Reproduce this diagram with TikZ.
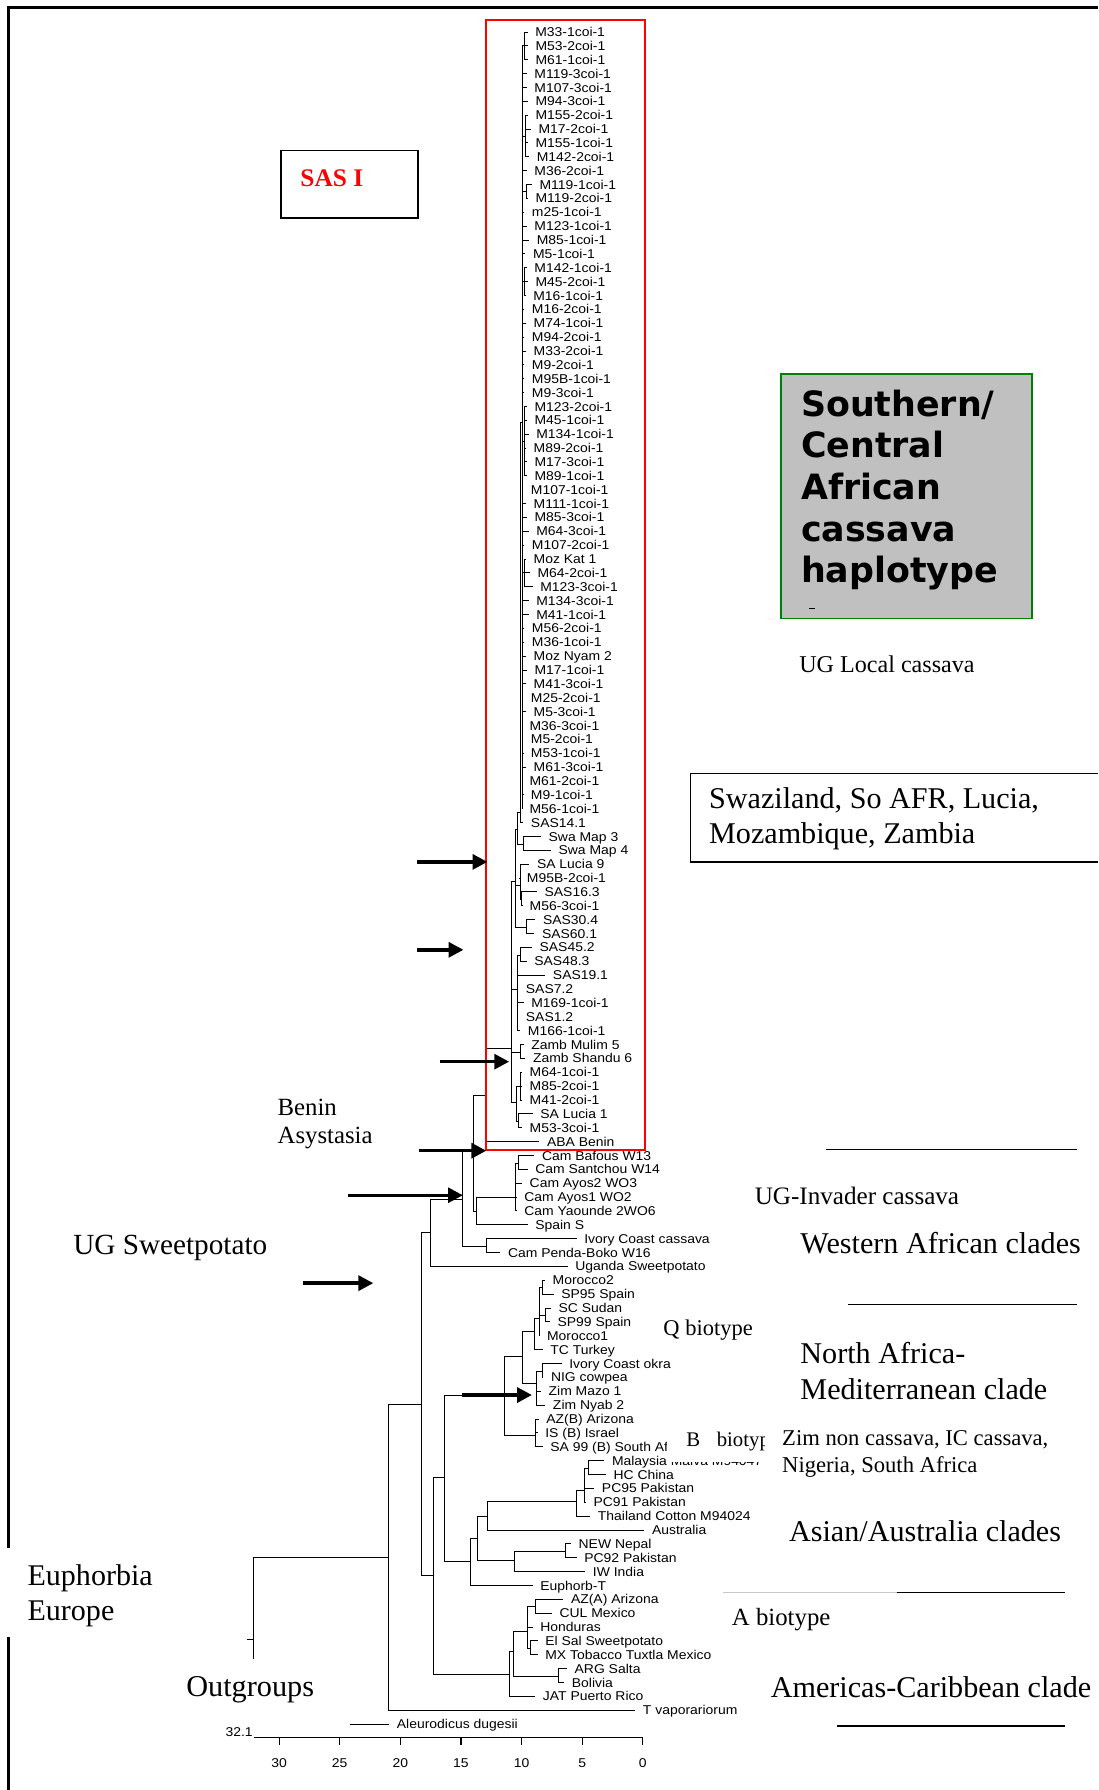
\documentclass[tikz,border=0pt]{standalone}
\usepackage{fontspec}
\setmainfont{Liberation Serif}
\newfontfamily\leaffont[FakeStretch=1.09]{Liberation Sans}
\newfontfamily\verd{DejaVu Sans}
\usetikzlibrary{arrows.meta}
\newcommand{\Y}[1]{\fpeval{28+12.15*(#1-1)}}
\newcommand{\fs}[1]{\fontsize{#1}{#1}\selectfont}
\tikzset{
  br/.style={line width=0.8pt, line join=miter},
  leaf/.style={anchor=west, inner sep=0pt, text height=8pt, text depth=0pt, font={\leaffont\fontsize{11.2}{12}\selectfont}},
  num/.style={inner sep=0pt, text height=8pt, text depth=0pt, font={\leaffont\fontsize{11.2}{12}\selectfont}},
  lab/.style={anchor=base west, inner sep=0pt},
  arr/.style={line width=3pt, -{Triangle[length=13pt,width=13pt]}},
  rule/.style={line width=1.3pt},
  blank/.style={fill=white, draw=none}
}
\newcommand{\lf}[5]{\node[leaf] (#1) at (#3,\Y{#4}) {#5}; \draw[br] (#2) |- ([xshift=-6.5pt]#1.west);}
\newcommand{\ed}[2]{\draw[br] (#1) |- (#2);}
\begin{document}
\begin{tikzpicture}[x=1pt,y=-1pt]
\useasboundingbox (0,0) rectangle (962,1568);
\fill[white] (0,0) rectangle (962,1568);
% frame
\draw[line width=2pt] (7.5,1568) -- (7.5,6.5) -- (962,6.5);

% internal nodes
\coordinate (R) at (222,1436.5);
\coordinate (ing) at (340.2,1364);
\coordinate (n368) at (368.8,1230);
\coordinate (n377) at (377.3,1080);
\coordinate (n405) at (405.4,1050.7);
\coordinate (n415) at (414.7,1009);
\coordinate (n426) at (426.4,1091.8);
\coordinate (n425) at (425,959.3);
\coordinate (n417) at (417,1061);
\coordinate (nCam) at (451.2,1049);
\coordinate (nCamA) at (454.1,1019);
\coordinate (nSAS) at (448.3,918.5);
\coordinate (nUp) at (451.2,772);
\coordinate (nTop) at (453.5,727);
\coordinate (nTop2) at (455.5,712);
\coordinate (nM) at (457.5,370);
\coordinate (nSwa) at (458.5,739.6);
\coordinate (nMid) at (455.5,776);
\coordinate (nS16) at (457,788.2);
\coordinate (nS30) at (460.9,812.5);
\coordinate (nS19) at (453.3,867);
\coordinate (nS45) at (455.8,836.8);
\coordinate (nZamb) at (455.8,921.8);
\coordinate (nLow) at (452.3,966);
\coordinate (nLowA) at (455.8,952.1);
\coordinate (nLuc) at (454.3,982.5);
\coordinate (n380) at (379.7,1380);
\coordinate (n389) at (389,1294.5);
\coordinate (nNA) at (441.8,1222.2);
\coordinate (nNAQ) at (457.9,1188.6);
\coordinate (nQ) at (467.8,1166.7);
\coordinate (nQa) at (472.5,1155);
\coordinate (nMor) at (475.5,1128.2);
\coordinate (nSC) at (477.5,1152.5);
\coordinate (nIC) at (470.2,1212);
\coordinate (nOk) at (475,1201);
\coordinate (nB) at (468.7,1257.5);
\coordinate (nAs) at (412.4,1367.7);
\coordinate (nAs2) at (418.2,1347.5);
\coordinate (nAs3) at (426.9,1328.2);
\coordinate (nAs4) at (504.6,1315.6);
\coordinate (nAs5) at (511.6,1305.4);
\coordinate (nMal) at (515.4,1286);
\coordinate (nNep) at (450.3,1366.7);
\coordinate (nNep2) at (495,1359);
\coordinate (nAm) at (446,1466.8);
\coordinate (nAm2) at (449.9,1447);
\coordinate (nArg) at (489.2,1468.3);
\coordinate (nNAm) at (461.6,1429);
\coordinate (nAZ) at (468.7,1407.6);
\coordinate (nES) at (465,1444);
\coordinate (c1) at (459.5,\Y{2});
\coordinate (c2) at (460,\Y{8.5});
\coordinate (c3) at (461,\Y{12.5});
\coordinate (c4) at (459.5,\Y{19});
\coordinate (c5) at (459,\Y{30.5});
\coordinate (c6) at (459.5,\Y{40});
\coordinate (c7) at (458,\Y{55});
\coordinate (rootstub) at (216,1436.5);

% internal edges
\draw[br] (rootstub) -- (R);
\ed{R}{ing} \ed{ing}{n368} \ed{n368}{n377} \ed{n368}{n380}
\ed{n377}{n405} \ed{n405}{n415} \ed{n405}{n426}
\ed{n415}{n425} \ed{n415}{n417} \ed{n425}{nSAS} \ed{n417}{nCam} \ed{nCam}{nCamA}
\ed{nSAS}{nUp} \ed{nSAS}{nS19} \ed{nSAS}{nZamb} \ed{nSAS}{nLow}
\ed{nUp}{nTop} \ed{nUp}{nMid} \ed{nUp}{nS30}
\ed{nTop}{nTop2} \ed{nTop}{nSwa} \ed{nTop2}{nM}
\ed{nMid}{nS16} \ed{nS19}{nS45} \ed{nLow}{nLowA} \ed{nLow}{nLuc}
\ed{nM}{c1} \ed{nM}{c2} \ed{nM}{c3} \ed{nM}{c4} \ed{nM}{c5} \ed{nM}{c6} \ed{nM}{c7}
\ed{n380}{n389} \ed{n380}{nAm} \ed{n389}{nNA} \ed{n389}{nAs}
\ed{nNA}{nNAQ} \ed{nNA}{nB} \ed{nNAQ}{nQ} \ed{nNAQ}{nIC}
\ed{nQ}{nQa} \ed{nQa}{nMor} \ed{nQa}{nSC} \ed{nIC}{nOk}
\ed{nAs}{nAs2} \ed{nAs2}{nAs3} \ed{nAs2}{nNep} \ed{nAs3}{nAs4} \ed{nAs4}{nAs5} \ed{nAs5}{nMal} \ed{nNep}{nNep2}
\ed{nAm}{nAm2} \ed{nAm2}{nNAm} \ed{nAm2}{nArg} \ed{nNAm}{nAZ} \ed{nNAm}{nES}

% leaves
\lf{l1}{c1}{468.7}{1}{M33-1coi-1}
\lf{l2}{c1}{469}{2}{M53-2coi-1}
\lf{l3}{c1}{469}{3}{M61-1coi-1}
\lf{l4}{nM}{468}{4}{M119-3coi-1}
\lf{l5}{nM}{468}{5}{M107-3coi-1}
\lf{l6}{nM}{469}{6}{M94-3coi-1}
\lf{l7}{c2}{469}{7}{M155-2coi-1}
\lf{l8}{c2}{471.6}{8}{M17-2coi-1}
\lf{l9}{c2}{469}{9}{M155-1coi-1}
\lf{l10}{c2}{470}{10}{M142-2coi-1}
\lf{l11}{nM}{468}{11}{M36-2coi-1}
\lf{l12}{c3}{472.5}{12}{M119-1coi-1}
\lf{l13}{c3}{469}{13}{M119-2coi-1}
\lf{l14}{nM}{465.8}{14}{m25-1coi-1}
\lf{l15}{nM}{468}{15}{M123-1coi-1}
\lf{l16}{nM}{470}{16}{M85-1coi-1}
\lf{l17}{nM}{466.7}{17}{M5-1coi-1}
\lf{l18}{c4}{468}{18}{M142-1coi-1}
\lf{l19}{c4}{469}{19}{M45-2coi-1}
\lf{l20}{c4}{467}{20}{M16-1coi-1}
\lf{l21}{nM}{465.8}{21}{M16-2coi-1}
\lf{l22}{nM}{467.3}{22}{M74-1coi-1}
\lf{l23}{nM}{465.8}{23}{M94-2coi-1}
\lf{l24}{nM}{467.3}{24}{M33-2coi-1}
\lf{l25}{nM}{465.8}{25}{M9-2coi-1}
\lf{l26}{nM}{465.8}{26}{M95B-1coi-1}
\lf{l27}{nM}{465.8}{27}{M9-3coi-1}
\lf{l28}{c5}{468.1}{28}{M123-2coi-1}
\lf{l29}{c5}{468.1}{29}{M45-1coi-1}
\lf{l30}{c5}{469.6}{30}{M134-1coi-1}
\lf{l31}{c5}{467.3}{31}{M89-2coi-1}
\lf{l32}{c5}{468.1}{32}{M17-3coi-1}
\lf{l33}{c5}{468.1}{33}{M89-1coi-1}
\lf{l34}{nM}{464.9}{34}{M107-1coi-1}
\lf{l35}{nM}{467.3}{35}{M111-1coi-1}
\lf{l36}{nM}{468.1}{36}{M85-3coi-1}
\lf{l37}{nM}{469.6}{37}{M64-3coi-1}
\lf{l38}{nM}{465.8}{38}{M107-2coi-1}
\lf{l39}{c6}{467.3}{39}{Moz Kat 1}
\lf{l40}{c6}{470.7}{40}{M64-2coi-1}
\lf{l41}{c6}{473.1}{41}{M123-3coi-1}
\lf{l42}{nM}{469.6}{42}{M134-3coi-1}
\lf{l43}{nM}{469.6}{43}{M41-1coi-1}
\lf{l44}{nM}{465.8}{44}{M56-2coi-1}
\lf{l45}{nM}{465.8}{45}{M36-1coi-1}
\lf{l46}{nM}{467.3}{46}{Moz Nyam 2}
\lf{l47}{nM}{468.1}{47}{M17-1coi-1}
\lf{l48}{nM}{467.3}{48}{M41-3coi-1}
\lf{l49}{nM}{464.9}{49}{M25-2coi-1}
\lf{l50}{nM}{467.3}{50}{M5-3coi-1}
\lf{l51}{nM}{463.7}{51}{M36-3coi-1}
\lf{l52}{nM}{464.9}{52}{M5-2coi-1}
\lf{l53}{c7}{464.9}{53}{M53-1coi-1}
\lf{l54}{c7}{467.3}{54}{M61-3coi-1}
\lf{l55}{c7}{463.7}{55}{M61-2coi-1}
\lf{l56}{c7}{464.9}{56}{M9-1coi-1}
\lf{l57}{c7}{463.7}{57}{M56-1coi-1}
\lf{l58}{nTop2}{464.9}{58}{SAS14.1}
\lf{l59}{nSwa}{480.4}{59}{Swa Map 3}
\lf{l60}{nSwa}{489.1}{60}{Swa Map 4}
\lf{l61}{nMid}{470.2}{61}{SA Lucia 9}
\lf{l62}{nMid}{461.4}{62}{M95B-2coi-1}
\lf{l63}{nS16}{476.9}{63}{SAS16.3}
\lf{l64}{nS16}{463.8}{64}{M56-3coi-1}
\lf{l65}{nS30}{475.5}{65}{SAS30.4}
\lf{l66}{nS30}{474.6}{66}{SAS60.1}
\lf{l67}{nS45}{472.5}{67}{SAS45.2}
\lf{l68}{nS45}{467.9}{68}{SAS48.3}
\lf{l69}{nS19}{484.2}{69}{SAS19.1}
\lf{l70}{nS19}{460.5}{70}{SAS7.2}
\lf{l71}{nS19}{465.2}{71}{M169-1coi-1}
\lf{l72}{nS19}{460.5}{72}{SAS1.2}
\lf{l73}{nS19}{462.3}{73}{M166-1coi-1}
\lf{l74}{nZamb}{465.2}{74}{Zamb Mulim 5}
\lf{l75}{nZamb}{466.7}{75}{Zamb Shandu 6}
\lf{l76}{nLowA}{463.8}{76}{M64-1coi-1}
\lf{l77}{nLowA}{463.8}{77}{M85-2coi-1}
\lf{l78}{nLowA}{463.8}{78}{M41-2coi-1}
\lf{l79}{nLuc}{473.1}{79}{SA Lucia 1}
\lf{l80}{nLuc}{463.8}{80}{M53-3coi-1}
\lf{l81}{n425}{479}{81}{ABA Benin}
\lf{l82}{nCamA}{474.6}{82}{Cam Bafous W13}
\lf{l83}{nCamA}{468.7}{83}{Cam Santchou W14}
\lf{l84}{nCam}{463.8}{84}{Cam Ayos2 WO3}
\lf{l85}{nCam}{459.1}{85}{Cam Ayos1 WO2}
\lf{l86}{nCam}{459.1}{86}{Cam Yaounde 2WO6}
\lf{l87}{n417}{468.7}{87}{Spain S}
\lf{l88}{n426}{511.6}{88}{Ivory Coast cassava}
\lf{l89}{n426}{444.8}{89}{Cam Penda-Boko W16}
\lf{l90}{n377}{503.8}{90}{Uganda Sweetpotato}
\lf{l91}{nMor}{483.9}{91}{Morocco2}
\lf{l92}{nMor}{491.5}{92}{SP95 Spain}
\lf{l93}{nSC}{489.2}{93}{SC Sudan}
\lf{l94}{nSC}{488.2}{94}{SP99 Spain}
\lf{l95}{nQa}{479}{95}{Morocco1}
\lf{l96}{nQ}{481.9}{96}{TC Turkey}
\lf{l97}{nOk}{498.5}{97}{Ivory Coast okra}
\lf{l98}{nOk}{482.5}{98}{NIG cowpea}
\lf{l99}{nIC}{480.4}{99}{Zim Mazo 1}
\lf{l100}{nIC}{484.2}{100}{Zim Nyab 2}
\lf{l101}{nB}{478.4}{101}{AZ(B) Arizona}
\lf{l102}{nB}{477.5}{102}{IS (B) Israel}
\lf{l103}{nB}{481.9}{103}{SA 99 (B) South Africa}
\lf{l104}{nMal}{535.9}{104}{Malaysia Malva M94047}
\lf{l105}{nMal}{537.3}{105}{HC China}
\lf{l106}{nAs5}{527.1}{106}{PC95 Pakistan}
\lf{l107}{nAs5}{519.8}{107}{PC91 Pakistan}
\lf{l108}{nAs4}{523.6}{108}{Thailand Cotton M94024}
\lf{l109}{nAs3}{571}{109}{Australia}
\lf{l110}{nNep2}{506.7}{110}{NEW Nepal}
\lf{l111}{nNep2}{511.7}{111}{PC92 Pakistan}
\lf{l112}{nNep}{519.2}{112}{IW India}
\lf{l113}{nAs}{473.1}{113}{Euphorb-T}
\lf{l114}{nAZ}{500}{114}{AZ(A) Arizona}
\lf{l115}{nAZ}{490}{115}{CUL Mexico}
\lf{l116}{nNAm}{473.1}{116}{Honduras}
\lf{l117}{nES}{477.5}{117}{El Sal Sweetpotato}
\lf{l118}{nES}{477.5}{118}{MX Tobacco Tuxtla Mexico}
\lf{l119}{nArg}{503.2}{119}{ARG Salta}
\lf{l120}{nArg}{500.8}{120}{Bolivia}
\lf{l121}{nAm}{475.4}{121}{JAT Puerto Rico}
\lf{l122}{ing}{563}{122}{T vaporariorum}
\lf{l123}{R}{347.5}{123}{Aleurodicus dugesii}

% red box
\draw[red, line width=1.8pt] (425.5,17.3) rectangle (565,1007.5);

% arrows
\coordinate (a1s) at (365,755); \coordinate (a1e) at (427,755);
\coordinate (a2s) at (365,832); \coordinate (a2e) at (406,832);
\coordinate (a3s) at (385,930); \coordinate (a3e) at (446,930);
\coordinate (a4s) at (367,1008); \coordinate (a4e) at (426,1008);
\coordinate (a5s) at (305,1047); \coordinate (a5e) at (405.5,1047);
\coordinate (a6s) at (265,1124); \coordinate (a6e) at (327,1124);
\coordinate (a7s) at (404.5,1222); \coordinate (a7e) at (466,1222);
\draw[arr] (a1s) -- (a1e);
\draw[arr] (a2s) -- (a2e);
\draw[arr] (a3s) -- (a3e);
\draw[arr] (a4s) -- (a4e);
\draw[arr] (a5s) -- (a5e);
\draw[arr] (a6s) -- (a6e);
\draw[arr] (a7s) -- (a7e);

% covering text boxes
\fill[white] (150,1453) rectangle (306.6,1512.4);
\fill[white] (3,1356) rectangle (150,1434);
\fill[white] (584,1244) rectangle (670,1280.6);
\node[lab, font=\fs{18.2}] (bbio) at (601,1267.5) {B\hspace{0.8em}biotype};
\fill[white] (670,1244) rectangle (962,1298);
\node[lab, font=\fs{19.8}] (zim1) at (685,1266.5) {Zim non cassava, IC cassava,};
\node[lab, font=\fs{19.8}] (zim2) at (685,1289.5) {Nigeria, South Africa};

% axis
\draw[line width=1pt] (222.2,1522) -- (563.1,1522);
\foreach \v in {0,5,...,30}{
  \draw[line width=1pt] ({563.1-10.62*\v},1522) -- ({563.1-10.62*\v},1528.5);
  \node[num] (t\v) at ({563.1-10.62*\v},1544) {\v};
}
\node[num, anchor=east] (s321) at (221.5,1517.5) {32.1};

% labels
\node[lab, font=\fs{26.4}] (western) at (701,1097.7) {Western African clades};
\node[lab, font=\fs{22}] (inv) at (661,1055) {UG-Invader cassava};
\node[lab, font=\fs{26.4}] (na1) at (701,1194.7) {North Africa-};
\node[lab, font=\fs{26.4}] (na2) at (701,1225.7) {Mediterranean clade};
\node[lab, font=\fs{26.4}] (asian) at (691,1350.7) {Asian/Australia clades};
\node[lab, font=\fs{21.7}] (abio) at (641,1424) {A biotype};
\node[lab, font=\fs{26.4}] (amer) at (675,1486.7) {Americas-Caribbean clade};
\node[lab, font=\fs{19.7}] (qbio) at (581,1169.5) {Q biotype};
\node[lab, font=\fs{21.1}] (ugl) at (700,589) {UG Local cassava};
\node[lab, font=\fs{21.7}] (ben1) at (243,977) {Benin};
\node[lab, font=\fs{21.7}] (ben2) at (243,1001.5) {Asystasia};
\node[lab, font=\fs{25.6}] (ugs) at (64,1098.7) {UG Sweetpotato};
\node[lab, font=\fs{26.3}] (eu1) at (24,1388.6) {Euphorbia};
\node[lab, font=\fs{26.3}] (eu2) at (24,1419.3) {Europe};
\node[lab, font=\fs{26.5}] (out) at (163,1485.9) {Outgroups};

% rules
\draw[rule] (723.7,1007) -- (943.3,1007);
\draw[rule] (743.2,1142.5) -- (943.3,1142.5);
\draw[black!22, line width=0.8pt] (633.7,1395) -- (785.6,1395);
\draw[rule] (785.6,1395) -- (933,1395);
\draw[rule] (733.6,1512) -- (933,1512);

% SAS I box
\draw[line width=1.2pt] (246,132) rectangle (366,191);
\node[lab, font={\fs{22.2}\bfseries}, text=red] (sas) at (263,163) {SAS I};

% Southern box
\draw[draw={rgb,255:red,0;green,128;blue,0}, fill={rgb,255:red,192;green,192;blue,192}, line width=1.5pt] (684,327.7) rectangle (903.9,541.7);
\node[lab, font={\verd\bfseries\fs{30.5}}] (s1) at (701.5,364.5) {Southern/};
\node[lab, font={\verd\bfseries\fs{30.5}}] (s2) at (701.5,401) {Central};
\node[lab, font={\verd\bfseries\fs{30.5}}] (s3) at (701.5,437.5) {African};
\node[lab, font={\verd\bfseries\fs{30.5}}] (s4) at (701.5,474) {cassava};
\node[lab, font={\verd\bfseries\fs{30.5}}] (s5) at (701.5,510.5) {haplotype};
\draw[line width=1pt] (709,533) -- (714,533);

% Swaziland box
\draw[line width=1.3pt] (962,677.5) -- (605,677.5) -- (605,755) -- (962,755);
\node[lab, font=\fs{26.4}] (sw1) at (621,708.2) {Swaziland, So AFR, Lucia,};
\node[lab, font=\fs{26.4}] (sw2) at (621,738.8) {Mozambique, Zambia};
\end{tikzpicture}
\end{document}
